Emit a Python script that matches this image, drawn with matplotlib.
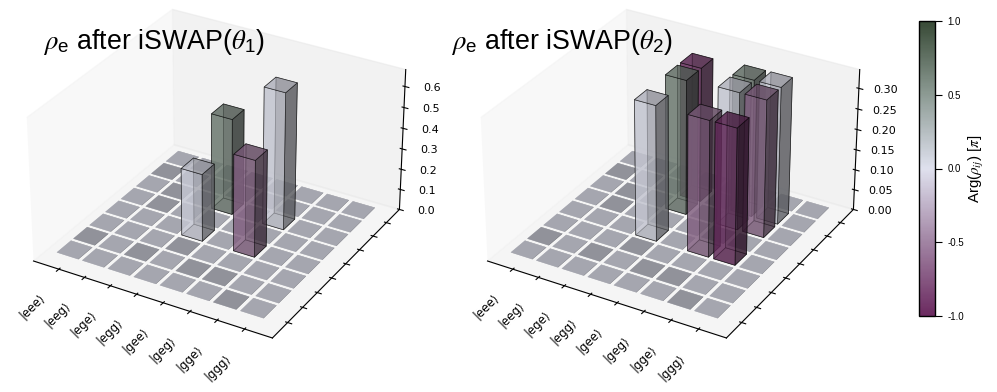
import numpy as np
import matplotlib
matplotlib.use('Agg')
import matplotlib.pyplot as plt
from matplotlib.colors import LinearSegmentedColormap, Normalize
from matplotlib.cm import ScalarMappable

plt.rcParams['mathtext.fontset'] = 'custom'
plt.rcParams['mathtext.rm'] = 'Liberation Sans'
plt.rcParams['mathtext.it'] = 'STIXGeneral:italic'

states = ['eee', 'eeg', 'ege', 'egg', 'gee', 'geg', 'gge', 'ggg']

# floor cells that come out darker (x index, y index)
dark_cells = [(0, 1), (0, 6), (6, 0), (2, 1), (3, 2), (4, 1), (5, 1), (1, 4), (1, 5)]

# tall bars: x index, y index, height, phase in units of pi
bars_1_x = [3, 3, 5, 5]
bars_1_y = [3, 5, 3, 5]
bars_1_h = [0.325, 0.465, 0.465, 0.66]
bars_1_p = [0.0, 0.62, -0.62, 0.02]

bars_2_x = [3, 3, 3, 5, 5, 5, 6, 6, 6]
bars_2_y = [3, 5, 6, 3, 5, 6, 3, 5, 6]
bars_2_h = [0.33, 0.33, 0.33, 0.33, 0.335, 0.335, 0.33, 0.335, 0.335]
bars_2_p = [0.02, 0.62, -0.98, -0.62, 0.02, 0.62, -0.98, -0.62, 0.02]

z_ticks_1 = [0.0, 0.1, 0.2, 0.3, 0.4, 0.5, 0.6]
z_ticks_2 = [0.0, 0.05, 0.10, 0.15, 0.20, 0.25, 0.30]

phase_colors = ['#6b2a60', '#a184a3', '#dfe1ee', '#8d9b94', '#384a36']
cmap = LinearSegmentedColormap.from_list('phase', phase_colors)
norm = Normalize(-1, 1)
cell_color = '#dfe1ee'
cell_dark_color = '#c2c4d0'


def draw_panel(rect, bx, by, bh, bp, zmax, zticks, zfmt):
    ax = fig.add_axes(rect, projection='3d')
    ax.computed_zorder = False
    ax.view_init(elev=30, azim=-60)
    ax.set_box_aspect((4, 4, 2.4), zoom=0.945)
    ax.set_xlim(0, 9)
    ax.set_ylim(0, 9)
    ax.set_zlim(0, zmax)

    # the grid sits a bit off the tick positions
    off_x, off_y = -0.2, 0.25

    # flat cells
    fx, fy, fc = [], [], []
    for i in range(8):
        for j in range(8):
            if (i, j) in zip(bx, by):
                continue
            fx.append(i + 0.575 + off_x)
            fy.append(j + 0.575 + off_y)
            fc.append(cell_dark_color if (i, j) in dark_cells else cell_color)
    ax.bar3d(fx, fy, np.zeros(len(fx)), 0.85, 0.85, zmax * 0.002,
             color=fc, alpha=0.8, linewidth=0, zorder=1)

    ax.bar3d(np.array(bx) + 0.6 + off_x, np.array(by) + 0.6 + off_y, np.zeros(len(bx)), 0.8, 0.8, bh,
             color=cmap(norm(bp)), alpha=0.6, edgecolor=(0, 0, 0, 0.15), linewidth=0.5, zorder=2)

    ax.grid(False)
    ax.set_xticks(np.arange(1, 9))
    ax.set_xticklabels(['|%s\u27e9' % s for s in states], rotation=45, fontsize=8.5,
                       family='DejaVu Sans', ha='right', va='top')
    ax.set_yticks(np.arange(1, 9))
    ax.set_yticklabels([])
    ax.set_zticks(zticks)
    ax.set_zticklabels([zfmt % z for z in zticks], fontsize=8, family='DejaVu Sans')
    ax.tick_params(axis='x', pad=5)
    ax.tick_params(axis='z', pad=4)
    return ax


fig = plt.figure(figsize=(9.97, 3.92), dpi=100)
size = 430
w, h = size / 997, size / 392
draw_panel([(214 - size / 2) / 997, (392 - 171 - size / 2) / 392, w, h],
           bars_1_x, bars_1_y, bars_1_h, bars_1_p, 0.68, z_ticks_1, '%.1f')
draw_panel([(668 - size / 2) / 997, (392 - 171 - size / 2) / 392, w, h],
           bars_2_x, bars_2_y, bars_2_h, bars_2_p, 0.345, z_ticks_2, '%.2f')

title_font = ['Liberation Sans']
fig.text(43 / 997, 1 - 49 / 392, r'$\rho_{\mathrm{e}}$ after iSWAP($\theta_1$)', fontsize=19.3,
         family=title_font, va='baseline')
fig.text(451 / 997, 1 - 49 / 392, r'$\rho_{\mathrm{e}}$ after iSWAP($\theta_2$)', fontsize=19.3,
         family=title_font, va='baseline')

cax = fig.add_axes([919 / 997, 1 - 316 / 392, 16 / 997, 295 / 392])
cb = fig.colorbar(ScalarMappable(norm=norm, cmap=cmap), cax=cax, ticks=[-1, -0.5, 0, 0.5, 1])
cb.ax.set_yticklabels(['-1.0', '-0.5', '0.0', '0.5', '1.0'], family='Liberation Sans', fontsize=7)
cb.ax.tick_params(length=5, width=0.8, pad=4)
cb.outline.set_linewidth(1.0)
cb.set_label(r'Arg($\rho_{ij}$) [$\pi$]', family='Liberation Sans', fontsize=10.8, labelpad=2)

fig.savefig('out.png', dpi=100)
